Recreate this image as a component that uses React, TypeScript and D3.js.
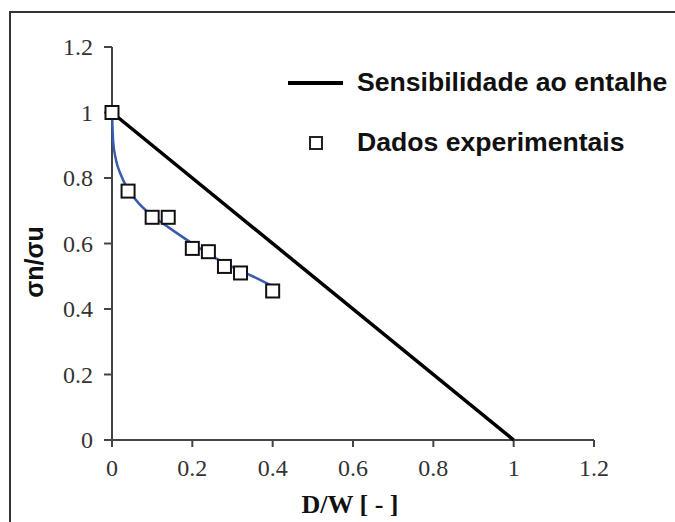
import React from "react";
import * as d3 from "d3";

const xTicks = [0, 0.2, 0.4, 0.6, 0.8, 1, 1.2];
const yTicks = [0, 0.2, 0.4, 0.6, 0.8, 1, 1.2];
const tickLabels = ["0", "0.2", "0.4", "0.6", "0.8", "1", "1.2"];

const expX = [0, 0.04, 0.1, 0.14, 0.2, 0.24, 0.28, 0.32, 0.4];
const expY = [1, 0.76, 0.68, 0.68, 0.585, 0.575, 0.53, 0.51, 0.455];

const fitX = [0, 0.003, 0.01, 0.022, 0.04, 0.065, 0.1, 0.14, 0.2, 0.28, 0.35, 0.4];
const fitY = [1, 0.91, 0.855, 0.81, 0.765, 0.725, 0.685, 0.65, 0.6, 0.54, 0.5, 0.47];

const lineX = [0, 1];
const lineY = [1, 0];

const legendLabels = ["Sensibilidade ao entalhe", "Dados experimentais"];

export default function App() {
  const W = 675, H = 522;
  const x = d3.scaleLinear().domain([0, 1.2]).range([112, 594]);
  const y = d3.scaleLinear().domain([0, 1.2]).range([440, 47]);

  const fitLine = d3
    .line<number>()
    .x((_, i) => x(fitX[i]))
    .y((d) => y(d))
    .curve(d3.curveMonotoneX);
  const straight = d3
    .line<number>()
    .x((_, i) => x(lineX[i]))
    .y((d) => y(d));

  const axisColor = "#444";
  const tickFont = "'Liberation Serif', 'DejaVu Serif', serif";
  const sansFont = "'Liberation Sans', Arial, sans-serif";
  const ms = 13;

  return (
    <svg
      width={W}
      height={H}
      style={{ position: "absolute", left: 0, top: 0, background: "#fff" }}
    >
      <rect x={0} y={0} width={W} height={H} fill="#fff" />
      <rect x={10} y={12} width={700} height={560} fill="none" stroke="#333" strokeWidth={2} />

      {/* axes */}
      <line x1={x(0)} x2={x(0)} y1={y(1.2)} y2={y(0)} stroke={axisColor} strokeWidth={2} />
      <line x1={x(0)} x2={x(1.2)} y1={y(0)} y2={y(0)} stroke={axisColor} strokeWidth={2} />
      {yTicks.map((t, i) => (
        <g key={"yt" + i}>
          <line x1={x(0) - 8} x2={x(0)} y1={y(t)} y2={y(t)} stroke={axisColor} strokeWidth={2} />
          <text
            x={x(0) - 19}
            y={y(t)}
            dy="0.35em"
            textAnchor="end"
            fontFamily={tickFont}
            fontSize={24}
            fill="#333"
          >
            {tickLabels[i]}
          </text>
        </g>
      ))}
      {xTicks.map((t, i) => (
        <g key={"xt" + i}>
          <line x1={x(t)} x2={x(t)} y1={y(0)} y2={y(0) + 7} stroke={axisColor} strokeWidth={2} />
          <text
            x={x(t)}
            y={476}
            textAnchor="middle"
            fontFamily={tickFont}
            fontSize={24}
            fill="#333"
          >
            {tickLabels[i]}
          </text>
        </g>
      ))}

      {/* axis titles */}
      <text
        x={350}
        y={513}
        textAnchor="middle"
        fontFamily={tickFont}
        fontWeight="bold"
        fontSize={26}
        fill="#111"
      >
        D/W [ - ]
      </text>
      <text
        transform="translate(43,262) rotate(-90)"
        textAnchor="middle"
        fontFamily={sansFont}
        fontWeight="bold"
        fontSize={25}
        fill="#111"
      >
        σn/σu
      </text>

      {/* series */}
      <path d={straight(lineY) || ""} fill="none" stroke="#000" strokeWidth={3.5} />
      <path d={fitLine(fitY) || ""} fill="none" stroke="#3a5cb0" strokeWidth={2.5} />
      {expY.map((v, i) => (
        <rect
          key={"p" + i}
          x={x(expX[i]) - ms / 2}
          y={y(v) - ms / 2}
          width={ms}
          height={ms}
          fill="#fff"
          stroke="#111"
          strokeWidth={2}
        />
      ))}

      {/* legend */}
      <line x1={288} x2={343} y1={83} y2={83} stroke="#000" strokeWidth={4} />
      <text x={357} y={91} fontFamily={sansFont} fontWeight="bold" fontSize={26.6} fill="#111">
        {legendLabels[0]}
      </text>
      <rect x={310} y={137} width={12} height={12} fill="#fff" stroke="#222" strokeWidth={2} />
      <text x={357} y={151} fontFamily={sansFont} fontWeight="bold" fontSize={26.6} fill="#111">
        {legendLabels[1]}
      </text>
    </svg>
  );
}
